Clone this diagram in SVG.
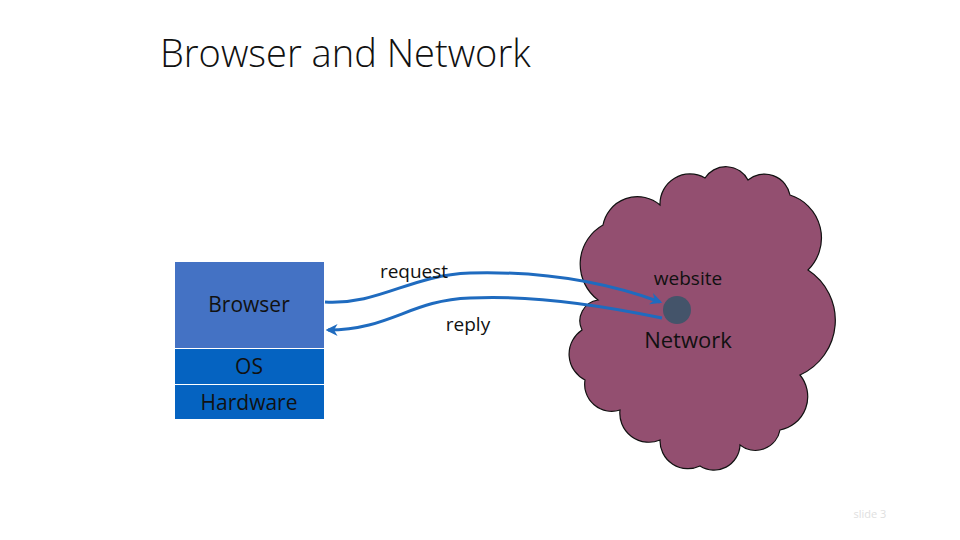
<svg xmlns="http://www.w3.org/2000/svg" width="960" height="540" viewBox="0 0 960 540">
<style>
text{font-family:"Open Sans","Liberation Sans",sans-serif;fill:#111}
.lbl{font-size:19px}
.conn{fill:none;stroke:#1f6bbf;stroke-width:3}
</style>
<defs><marker id="ah" viewBox="0 0 10 10" refX="8" refY="5" markerWidth="4" markerHeight="4" orient="auto"><path d="M0,0 L10,5 L0,10 L3,5z" fill="#1f6bbf"/></marker></defs>
<rect width="960" height="540" fill="#fff"/>
<text x="160" y="67" style="font-size:38px;font-weight:300">Browser and Network</text>
<g id="cloud">
<path d="M598,300 A45,45 0 0 1 603,225 A35,35 0 0 1 660,205 A30,30 0 0 1 705,178 A25,25 0 0 1 748,180 A26,26 0 0 1 790,195 A45,45 0 0 1 808,270 A60,60 0 0 1 800,375 A34,34 0 0 1 780,430 A25,25 0 0 1 740,445 A26,26 0 0 1 700,466 A28,28 0 0 1 660,440 A29,29 0 0 1 620,410 A27,27 0 0 1 585,380 A29,29 0 0 1 582,330 A21,21 0 0 1 598,300 Z" fill="#934f70" stroke="#111" stroke-width="1.2"/>
<text x="688" y="285" text-anchor="middle" class="lbl">website</text>
<text x="688" y="348" text-anchor="middle" style="font-size:22px">Network</text>
<circle id="site" cx="677" cy="310" r="14" fill="#44546a"/>
</g>
<g id="browser"><rect x="175" y="262" width="149" height="86" fill="#4472c4"/><text x="249" y="312" text-anchor="middle" style="font-size:21px">Browser</text></g>
<g id="os"><rect x="175" y="349" width="149" height="35" fill="#0563c1"/><text x="249" y="374" text-anchor="middle" style="font-size:21px">OS</text></g>
<g id="hardware"><rect x="175" y="385" width="149" height="34" fill="#0563c1"/><text x="249" y="410" text-anchor="middle" style="font-size:21px">Hardware</text></g>
<g id="connectors">
<path class="conn" d="M325,302 C380,305 410,275 470,273 C540,271 600,280 660,302" marker-end="url(#ah)"/>
<path class="conn" d="M662,318 C600,305 530,295 470,298 C410,300 390,330 328,330" marker-end="url(#ah)"/>
</g>
<text x="414" y="278" text-anchor="middle" class="lbl">request</text>
<text x="468" y="331" text-anchor="middle" class="lbl">reply</text>
<text x="870" y="518" text-anchor="middle" style="font-size:11px;fill:#e0e0e0">slide 3</text>
</svg>
